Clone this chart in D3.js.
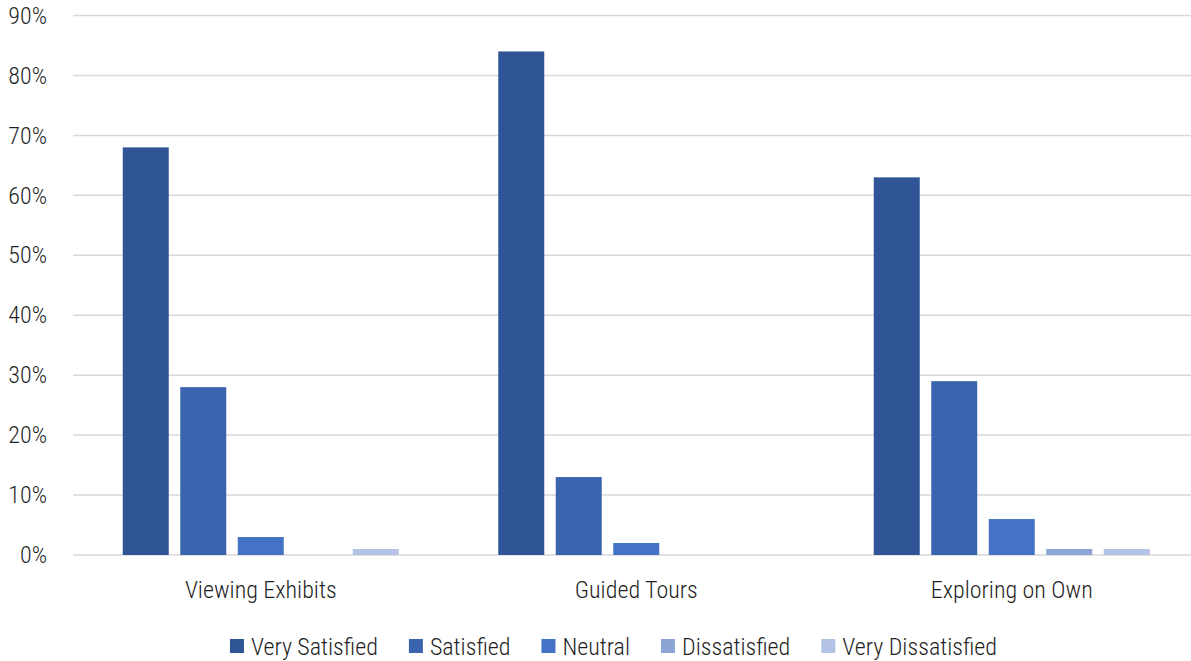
<!DOCTYPE html>
<html>
<head>
<meta charset="utf-8">
<script src="https://cdn.jsdelivr.net/npm/d3@7/dist/d3.min.js"></script>
<style>
  html, body { margin: 0; padding: 0; background: #fff; }
  svg { display: block; }
</style>
</head>
<body>
<svg id="chart" width="1191" height="661"></svg>
<script>
// Satisfaction survey results by activity (percent of respondents)
const categories = ["Viewing Exhibits", "Guided Tours", "Exploring on Own"];
const seriesNames = ["Very Satisfied", "Satisfied", "Neutral", "Dissatisfied", "Very Dissatisfied"];
const verySatisfied = [68, 84, 63];
const satisfied = [28, 13, 29];
const neutral = [3, 2, 6];
const dissatisfied = [0, 0, 1];
const veryDissatisfied = [1, 0, 1];
const yTicks = [0, 10, 20, 30, 40, 50, 60, 70, 80, 90];
const colors = ["#2f5597", "#3a64ad", "#4472c4", "#8ea5d4", "#b4c2e5"];

const seriesValues = [verySatisfied, satisfied, neutral, dissatisfied, veryDissatisfied];

const FONT = '"Roboto Condensed", "Liberation Sans Narrow", sans-serif';
const FS = 24;
const FW = 300;
const TXT = "#1f1f1f";

const svg = d3.select("#chart");
const W = 1191;
const plot = { left: 73, right: 1199.5, top: 15.5, bottom: 555 };

const x0 = d3.scaleBand().domain(categories).range([plot.left, plot.right]).paddingInner(0).paddingOuter(0);
const groupFrac = 0.735;
const x1 = d3.scaleBand().domain(seriesNames)
  .range([0, x0.bandwidth() * groupFrac]).paddingInner(0.2).paddingOuter(0);
const groupOffset = (x0.bandwidth() - x0.bandwidth() * groupFrac) / 2;

const y = d3.scaleLinear().domain([0, 90]).range([plot.bottom, plot.top]);

// gridlines
svg.append("g").selectAll("line").data(yTicks).join("line")
  .attr("x1", plot.left).attr("x2", W)
  .attr("y1", d => y(d)).attr("y2", d => y(d))
  .attr("stroke", "#d9d9d9").attr("stroke-width", 1.5);

// y-axis labels
const yAxis = d3.axisLeft(y).tickValues(yTicks).tickFormat(d => d + "%").tickSize(0).tickPadding(0);
const yg = svg.append("g").attr("transform", `translate(47,0)`).call(yAxis)
  .attr("font-family", FONT).attr("font-size", FS).attr("font-weight", FW);
yg.select(".domain").remove();
yg.selectAll("text").attr("fill", TXT);

// bars
const groups = svg.append("g").selectAll("g").data(categories).join("g")
  .attr("transform", c => `translate(${x0(c) + groupOffset},0)`);
groups.selectAll("rect")
  .data((c, ci) => seriesNames.map((s, si) => ({ s, si, v: seriesValues[si][ci] })))
  .join("rect")
  .filter(d => d.v > 0)
  .attr("x", d => x1(d.s))
  .attr("width", x1.bandwidth())
  .attr("y", d => y(d.v))
  .attr("height", d => y(0) - y(d.v))
  .attr("fill", d => colors[d.si]);

// category axis labels
const xAxis = d3.axisBottom(x0).tickSize(0).tickPadding(0);
const xg = svg.append("g").attr("transform", `translate(0,598)`).call(xAxis)
  .attr("font-family", FONT).attr("font-size", FS).attr("font-weight", FW);
xg.select(".domain").remove();
xg.selectAll("text").attr("fill", TXT).attr("dy", 0);

// legend
const legend = svg.append("g").attr("font-family", FONT).attr("font-size", FS).attr("font-weight", FW);
const items = legend.selectAll("g").data(seriesNames).join("g");
items.append("rect").attr("width", 14).attr("height", 14).attr("y", 639)
  .attr("fill", (d, i) => colors[i]);
items.append("text").attr("x", 21).attr("y", 655).attr("fill", TXT).text(d => d);
let widths = [];
items.each(function () { widths.push(d3.select(this).select("text").node().getComputedTextLength()); });
const gap = 31;
const total = d3.sum(widths.map(w => 21 + w)) + gap * (widths.length - 1);
let cx = (W - total) / 2 + 18;
items.attr("transform", (d, i) => { const t = `translate(${cx},0)`; cx += 21 + widths[i] + gap; return t; });
</script>
</body>
</html>
